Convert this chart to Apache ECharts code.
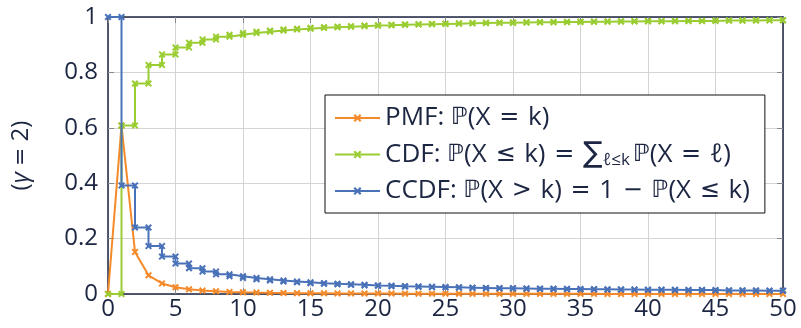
<!DOCTYPE html>
<html>
<head>
<meta charset="utf-8">
<script src="https://cdn.jsdelivr.net/npm/echarts@6/dist/echarts.min.js"></script>
<style>
html,body{margin:0;padding:0;background:#fff;}
#chart{width:801px;height:328px;}
</style>
</head>
<body>
<div id="chart"></div>
<script>
// k = 0..50
const ks = Array.from({length: 51}, (_, i) => i);
const xTicks = [0, 5, 10, 15, 20, 25, 30, 35, 40, 45, 50];
const yTicks = [0, 0.2, 0.4, 0.6, 0.8, 1];

const pmf = [0, 0.608, 0.152, 0.0675, 0.038, 0.0243, 0.0169, 0.0124, 0.0095, 0.0075,
  0.0061, 0.0050, 0.0042, 0.0036, 0.0031, 0.0027, 0.0024, 0.0021, 0.0019, 0.0017,
  0.0015, 0.0014, 0.0013, 0.0011, 0.0011, 0.0010, 0.0009, 0.0008, 0.0008, 0.0007,
  0.0007, 0.0006, 0.0006, 0.0006, 0.0005, 0.0005, 0.0005, 0.0004, 0.0004, 0.0004,
  0.0004, 0.0004, 0.0003, 0.0003, 0.0003, 0.0003, 0.0003, 0.0003, 0.0003, 0.0003, 0.0002];

const cdf = [0, 0.608, 0.760, 0.827, 0.865, 0.890, 0.907, 0.919, 0.929, 0.936,
  0.942, 0.947, 0.951, 0.955, 0.958, 0.961, 0.963, 0.965, 0.967, 0.969,
  0.970, 0.972, 0.973, 0.974, 0.975, 0.976, 0.977, 0.978, 0.979, 0.979,
  0.980, 0.981, 0.981, 0.982, 0.982, 0.983, 0.983, 0.984, 0.984, 0.985,
  0.985, 0.985, 0.986, 0.986, 0.986, 0.987, 0.987, 0.987, 0.988, 0.988, 0.988];

const ccdf = [1, 0.392, 0.240, 0.173, 0.135, 0.110, 0.093, 0.081, 0.071, 0.064,
  0.058, 0.053, 0.049, 0.045, 0.042, 0.039, 0.037, 0.035, 0.033, 0.031,
  0.030, 0.028, 0.027, 0.026, 0.025, 0.024, 0.023, 0.022, 0.021, 0.021,
  0.020, 0.019, 0.019, 0.018, 0.018, 0.017, 0.017, 0.016, 0.016, 0.015,
  0.015, 0.015, 0.014, 0.014, 0.014, 0.013, 0.013, 0.013, 0.012, 0.012, 0.012];

const names = ['PMF', 'CDF', 'CCDF'];
const colors = ['#f48a2a', '#9acd32', '#4a72b8'];

function stepPoints(vals) {
  const pts = [[ks[0], vals[0]]];
  for (let i = 1; i < ks.length; i++) {
    pts.push([ks[i], vals[i - 1]]);
    pts.push([ks[i], vals[i]]);
  }
  return pts;
}

const FONT = '"Open Sans", "DejaVu Sans", sans-serif';
const MFONT = '"DejaVu Sans", sans-serif';
const MARK = 'path://M0,2L2,0L5,3L8,0L10,2L7,5L10,8L8,10L5,7L2,10L0,8L3,5Z';
const axisCol = '#1c2541';
const S = '\u2004'; // relation spacing

const t = s => '{t|' + s + '}';
const m = s => '{m|' + s + '}';

const chart = echarts.init(document.getElementById('chart'), null, {renderer: 'canvas'});

function mkSeries(i, data) {
  return {
    name: names[i], type: 'line', data: data,
    symbol: MARK, symbolSize: 7, showSymbol: true,
    lineStyle: {color: colors[i], width: 2},
    itemStyle: {color: colors[i]},
    z: 2 + i, animation: false
  };
}

chart.setOption({
  animation: false,
  grid: {left: 108, right: 18, top: 17, bottom: 34, containLabel: false},
  legend: {
    orient: 'vertical', left: 325, top: 95,
    backgroundColor: '#fff', borderColor: '#111', borderWidth: 1,
    padding: [10, 15, 9, 9],
    itemWidth: 45, itemHeight: 10, itemGap: 9,
    data: names,
    textStyle: {
      fontFamily: FONT, fontSize: 26, color: '#1c2541',
      rich: {
        t: {fontFamily: FONT, fontSize: 26, color: '#1c2541'},
        m: {fontFamily: MFONT, fontSize: 24, color: '#1c2541'},
        big: {fontFamily: MFONT, fontSize: 29, color: '#1c2541'},
        sub: {fontFamily: FONT, fontSize: 17, color: '#1c2541', verticalAlign: 'bottom', padding: [9, 3, 0, 0]}
      }
    },
    formatter: function (n) {
      if (n === 'PMF') return t('PMF: ') + m('ℙ') + t('(X' + S) + m('=') + t(S + 'k)');
      if (n === 'CDF') return t('CDF: ') + m('ℙ') + t('(X' + S) + m('≤') + t(S + 'k)' + S) + m('=') + t(S) +
        '{big|∑}{sub|ℓ≤k}' + m('ℙ') + t('(X' + S) + m('=') + t(S + 'ℓ)');
      return t('CCDF: ') + m('ℙ') + t('(X' + S) + m('>') + t(S + 'k)' + S) + m('=') + t(S + '1' + S) + m('−') + t(S) +
        m('ℙ') + t('(X' + S) + m('≤') + t(S + 'k)');
    }
  },
  xAxis: [{
    type: 'value', min: 0, max: 50, interval: 5,
    axisLine: {onZero: false, lineStyle: {color: axisCol, width: 1.5}},
    axisTick: {show: true, inside: true, length: 6, lineStyle: {color: '#888'}},
    axisLabel: {fontFamily: FONT, fontSize: 24, color: axisCol, margin: 3},
    splitLine: {show: true, lineStyle: {color: '#d4d4d4', width: 1}}
  }, {
    type: 'value', min: 0, max: 50, interval: 5, position: 'top',
    axisLine: {onZero: false, lineStyle: {color: axisCol, width: 1.5}},
    axisTick: {show: true, inside: true, length: 6, lineStyle: {color: '#888'}},
    axisLabel: {show: false}, splitLine: {show: false}
  }],
  yAxis: [{
    type: 'value', min: 0, max: 1, interval: 0.2,
    name: '{t|(}{g|γ}{t| }{m|=}{t| 2)}', nameLocation: 'middle', nameGap: 75,
    nameTextStyle: {fontFamily: FONT, fontSize: 24, color: axisCol,
      rich: {t: {fontFamily: FONT, fontSize: 24, color: axisCol},
        g: {fontFamily: FONT, fontSize: 24, fontStyle: 'italic', color: axisCol},
        m: {fontFamily: MFONT, fontSize: 22, color: axisCol}}},
    axisLine: {show: true, onZero: false, lineStyle: {color: axisCol, width: 1.5}},
    axisTick: {show: true, inside: true, length: 6, lineStyle: {color: '#888'}},
    axisLabel: {fontFamily: FONT, fontSize: 24, color: axisCol, margin: 10,
      formatter: v => String(+v.toFixed(1))},
    splitLine: {show: true, lineStyle: {color: '#d4d4d4', width: 1}}
  }, {
    type: 'value', min: 0, max: 1, interval: 0.2, position: 'right',
    axisLine: {show: true, onZero: false, lineStyle: {color: axisCol, width: 1.5}},
    axisTick: {show: true, inside: true, length: 6, lineStyle: {color: '#888'}},
    axisLabel: {show: false}, splitLine: {show: false}
  }],
  series: [
    mkSeries(0, ks.map((k, i) => [k, pmf[i]])),
    mkSeries(1, stepPoints(cdf)),
    mkSeries(2, stepPoints(ccdf))
  ]
});
</script>
</body>
</html>
